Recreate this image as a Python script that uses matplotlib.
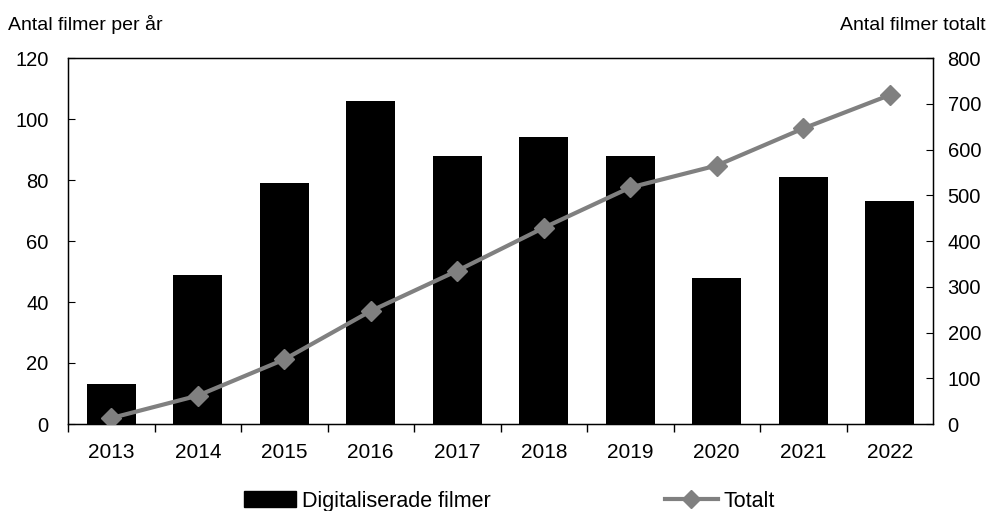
import matplotlib
matplotlib.use("Agg")
import matplotlib.pyplot as plt
from matplotlib.lines import Line2D
from matplotlib.patches import Patch

plt.rcParams['font.family'] = ['Liberation Sans', 'DejaVu Sans']

years = ['2013', '2014', '2015', '2016', '2017', '2018', '2019', '2020', '2021', '2022']
per_year = [13, 49, 79, 106, 88, 94, 88, 48, 81, 73]
total = [13, 62, 141, 247, 335, 429, 517, 565, 646, 719]

fig = plt.figure(figsize=(9.92, 5.11), dpi=100)
ax = fig.add_axes([68/992, 1-424/511, (933-68)/992, (424-58)/511])
x = list(range(len(years)))
ax.bar(x, per_year, width=0.57, color='black', zorder=2)
ax.set_xlim(-0.5, len(years) - 0.5)
ax.set_ylim(0, 120)
ax.set_yticks(range(0, 121, 20))
ax.set_xticks(x)
ax.set_xticklabels(years)
ax.tick_params(axis='x', length=0, pad=14, labelsize=15)
ax.set_xticks([i + 0.5 for i in x[:-1]] + [-0.5], minor=True)
ax.tick_params(axis='x', which='minor', length=6, direction='out', width=1)
ax.tick_params(axis='y', direction='in', length=5, labelsize=14.5, pad=14)
for s in ax.spines.values():
    s.set_linewidth(1)

ax2 = ax.twinx()
ax2.plot(x, total, color='#808080', lw=3, marker='D', markersize=10, zorder=3)
ax2.set_ylim(0, 800)
ax2.set_yticks(range(0, 801, 100))
ax2.tick_params(axis='y', direction='in', length=5, labelsize=14.5, pad=10.5)

fig.text(8/992, 1-25/511, 'Antal filmer per år', fontsize=14, ha='left', va='center')
fig.text(986/992, 1-25/511, 'Antal filmer totalt', fontsize=14, ha='right', va='center')

h1 = Patch(facecolor='black', edgecolor='black')
h2 = Line2D([0], [0], color='#808080', lw=3, marker='D', markersize=9.5)
fig.legend([h1, h2], ['Digitaliserade filmer', 'Totalt'], ncol=2, loc='center',
           bbox_to_anchor=(509/992, 1-501/511), frameon=False, fontsize=15.5,
           handlelength=2.45, handletextpad=0.25, columnspacing=8.1, handleheight=0.75,
           borderpad=0, borderaxespad=0)

fig.savefig('out.png', dpi=100)
